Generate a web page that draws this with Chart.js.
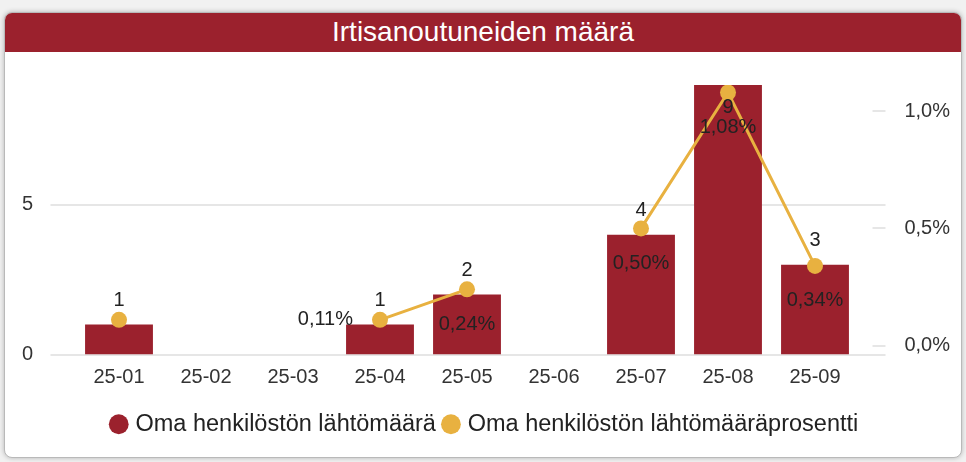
<!DOCTYPE html>
<html>
<head>
<meta charset="utf-8">
<script src="https://cdn.jsdelivr.net/npm/chart.js@4.4.1/dist/chart.umd.min.js"></script>
<style>
  html, body { margin: 0; padding: 0; background: #f1f1f1; }
  .card {
    position: absolute; left: 4px; top: 12px; width: 956px; height: 444px;
    background: #fff; border: 1px solid #b9b9b9; border-radius: 8px; overflow: hidden;
    box-shadow: 0 0 5px rgba(0,0,0,0.25);
  }
  .head {
    height: 39px; background: #9b212d; color: #fff; text-align: center;
    font: 28px "Liberation Sans", Arial, sans-serif; line-height: 38px;
  }
  .wrap { position: relative; width: 956px; height: 405px; }
</style>
</head>
<body>
<div class="card">
  <div class="head">Irtisanoutuneiden määrä</div>
  <div class="wrap"><canvas id="chart"></canvas></div>
</div>
<script>
// kuukaudet
var months = ['25-01','25-02','25-03','25-04','25-05','25-06','25-07','25-08','25-09'];
// lähtömäärä (kpl)
var leavers = [1, 0, 0, 1, 2, 0, 4, 9, 3];
// lähtömääräprosentti (%), tyhjä = ei arvoa
var leaverPct = [0.11, null, null, 0.11, 0.24, null, 0.50, 1.08, 0.34];
// akselien jaot
var countTicks = [0, 5];
var pctTicks = [0, 0.5, 1.0];

var red = '#9b212d';
var yellow = '#e8b140';
var font = '"Liberation Sans", Arial, sans-serif';

function fiPct(v, d) { return v.toFixed(d).replace('.', ',') + '%'; }

var extras = {
  id: 'extras',
  beforeDatasetsDraw: function(chart) {
    var ctx = chart.ctx, a = chart.chartArea, y = chart.scales.y, y1 = chart.scales.y1;
    ctx.save();
    ctx.strokeStyle = '#e6e6e6';
    ctx.lineWidth = 2;
    y.ticks.forEach(function(t) {
      var py = Math.round(y.getPixelForValue(t.value));
      ctx.beginPath(); ctx.moveTo(a.left - 25, py); ctx.lineTo(a.right + 27, py); ctx.stroke();
    });
    y1.ticks.forEach(function(t) {
      var py = Math.round(y1.getPixelForValue(t.value));
      ctx.beginPath(); ctx.moveTo(a.right + 14, py); ctx.lineTo(a.right + 27, py); ctx.stroke();
    });
    ctx.restore();
  },
  afterDatasetsDraw: function(chart) {
    var ctx = chart.ctx, a = chart.chartArea;
    var bars = chart.getDatasetMeta(0).data;
    var pts = chart.getDatasetMeta(1).data;
    ctx.save();
    ctx.font = '20px ' + font;
    ctx.fillStyle = '#222';
    ctx.textBaseline = 'middle';
    // lukumäärät pylvään yläpuolelle
    ctx.textAlign = 'center';
    bars.forEach(function(b, i) {
      if (!leavers[i]) return;
      ctx.fillText(String(leavers[i]), b.x, Math.max(b.y - 24, a.top + 22));
    });
    // prosentit pisteen alle (ensimmäinen piilossa, 25-04 vasemmalle)
    pts.forEach(function(p, i) {
      if (leaverPct[i] == null || i === 0) return;
      if (i === 3) {
        ctx.textAlign = 'right';
        ctx.fillText(fiPct(leaverPct[i], 2), p.x - 27, p.y);
      } else {
        ctx.textAlign = 'center';
        ctx.fillText(fiPct(leaverPct[i], 2), p.x, p.y + 35);
      }
    });
    ctx.restore();
  }
};

new Chart(document.getElementById('chart'), {
  type: 'bar',
  data: {
    labels: months,
    datasets: [{
      type: 'bar',
      label: 'Oma henkilöstön lähtömäärä',
      data: leavers,
      backgroundColor: red,
      borderColor: red,
      yAxisID: 'y',
      order: 1,
      categoryPercentage: 1,
      barPercentage: 0.78
    }, {
      type: 'line',
      label: 'Oma henkilöstön lähtömääräprosentti',
      data: leaverPct,
      borderColor: yellow,
      backgroundColor: yellow,
      borderWidth: 3,
      pointRadius: 8,
      pointHoverRadius: 8,
      pointBorderWidth: 0,
      spanGaps: false,
      yAxisID: 'y1',
      order: 0
    }]
  },
  options: {
    responsive: true,
    maintainAspectRatio: false,
    animation: false,
    devicePixelRatio: 1,
    layout: { padding: { top: 33, left: 17, right: 11, bottom: 11 } },
    plugins: {
      tooltip: { enabled: false },
      legend: {
        position: 'bottom',
        labels: {
          usePointStyle: true,
          pointStyle: 'circle',
          boxWidth: 10,
          boxHeight: 14,
          padding: 10,
          color: '#222',
          font: { family: font, size: 23.5 },
          sort: function(a, b) { return a.datasetIndex - b.datasetIndex; }
        }
      }
    },
    scales: {
      x: {
        grid: { display: false },
        border: { display: false },
        ticks: { color: '#333', padding: 3, font: { family: font, size: 20 }, maxRotation: 0 },
        afterFit: function(s) { s.height = 48; }
      },
      y: {
        position: 'left',
        min: 0, max: 9,
        grid: { display: false },
        border: { display: false },
        ticks: { color: '#333', padding: 0, crossAlign: 'far', font: { family: font, size: 20 } },
        afterBuildTicks: function(s) { s.ticks = countTicks.map(function(v) { return { value: v }; }); },
        afterFit: function(s) { s.width = 53.5; }
      },
      y1: {
        position: 'right',
        min: -0.038, max: 1.112,
        grid: { display: false },
        border: { display: false },
        ticks: {
          color: '#333', padding: 0, crossAlign: 'far', font: { family: font, size: 20 },
          callback: function(v) { return fiPct(v, 1); }
        },
        afterBuildTicks: function(s) { s.ticks = pctTicks.map(function(v) { return { value: v }; }); },
        afterFit: function(s) { s.width = 91.5; }
      }
    }
  },
  plugins: [extras]
});
</script>
</body>
</html>
